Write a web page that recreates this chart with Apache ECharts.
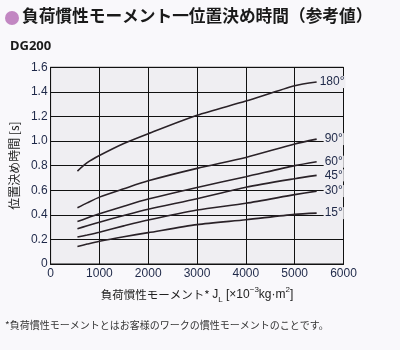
<!DOCTYPE html>
<html><head><meta charset="utf-8">
<script src="https://cdn.jsdelivr.net/npm/echarts@6/dist/echarts.min.js"></script>
<style>html,body{margin:0;padding:0;background:#f9f8fb;}#c{width:400px;height:350px;}</style>
</head><body><div id="c"></div>
<script>
var inertia = [550, 750, 1000, 1500, 2000, 3000, 4000, 5000, 5450];
var t180 = [0.756, 0.824, 0.882, 0.98, 1.06, 1.21, 1.325, 1.45, 1.48];
var t90  = [0.457, 0.497, 0.544, 0.612, 0.677, 0.778, 0.867, 0.976, 1.016];
var t60  = [0.345, 0.374, 0.408, 0.47, 0.528, 0.623, 0.71, 0.80, 0.832];
var t45  = [0.287, 0.311, 0.34, 0.394, 0.445, 0.531, 0.624, 0.694, 0.721];
var t30  = [0.219, 0.236, 0.259, 0.31, 0.358, 0.439, 0.494, 0.564, 0.593];
var t15  = [0.142, 0.162, 0.185, 0.222, 0.255, 0.32, 0.36, 0.404, 0.414];
var seriesNames = ['180°', '90°', '60°', '45°', '30°', '15°'];
var seriesValues = [t180, t90, t60, t45, t30, t15];

var plotBg = '#efeef2';
var numFont = '"Liberation Sans",Arial,sans-serif';
var cjk = '"Noto Sans CJK JP",sans-serif';
var labelColor = '#1e2848';

var chart = echarts.init(document.getElementById('c'), null, {renderer: 'canvas'});
var series = seriesValues.map(function (vals, i) {
  return {
    type: 'line', name: seriesNames[i], smooth: 0.25, symbol: 'none',
    data: inertia.map(function (x, j) { return [x, vals[j]]; }),
    lineStyle: {color: '#2a2228', width: 1.6},
    endLabel: {
      show: true, formatter: '{a}', distance: i === 0 ? 2 : 7,
      color: labelColor, fontFamily: numFont, fontSize: 12,
      backgroundColor: plotBg, padding: [0, 1, 0, 1]
    },
    z: 3
  };
});
chart.setOption({
  backgroundColor: '#f9f8fb',
  animation: false,
  grid: {left: 47.5, right: 56.5, top: 67.3, bottom: 86, show: true,
    backgroundColor: plotBg, borderColor: '#111', borderWidth: 1},
  xAxis: {
    type: 'value', min: 0, max: 6000, interval: 1000,
    axisLine: {show: true, lineStyle: {color: '#111', width: 1}},
    axisTick: {show: false},
    splitLine: {show: true, lineStyle: {color: '#111', width: 1}},
    axisLabel: {color: labelColor, fontFamily: numFont, fontSize: 12, margin: 4,
      formatter: function (v) { return String(v); }},
    name: '{c|負荷慣性モーメント* }{n|J}{s|L}{n| [×10}{sup|−3}{n|kg·m}{sup|2}{n|]}',
    nameLocation: 'middle', nameGap: 22,
    nameTextStyle: {
      color: '#222', fontSize: 12,
      rich: {
        c: {fontFamily: cjk, fontSize: 11.5, color: '#222', lineHeight: 18},
        n: {fontFamily: numFont, fontSize: 12, color: '#222', lineHeight: 18},
        s: {fontFamily: numFont, fontSize: 8, color: '#222', lineHeight: 18, verticalAlign: 'bottom'},
        sup: {fontFamily: numFont, fontSize: 8, color: '#222', lineHeight: 18, verticalAlign: 'top'}
      }
    }
  },
  yAxis: {
    type: 'value', min: 0, max: 1.6, interval: 0.2,
    axisLine: {show: true, lineStyle: {color: '#111', width: 1}},
    axisTick: {show: false},
    splitLine: {show: true, lineStyle: {color: '#111', width: 1}},
    axisLabel: {color: labelColor, fontFamily: numFont, fontSize: 12, margin: 3,
      formatter: function (v) { return v === 0 ? '0' : v.toFixed(1); }},
    name: '位置決め時間 [s]', nameLocation: 'middle', nameGap: 23,
    nameTextStyle: {color: '#222', fontFamily: cjk, fontSize: 12}
  },
  series: series,
  graphic: [
    {type: 'circle', shape: {cx: 12, cy: 18, r: 7}, style: {fill: '#c287c2'}},
    {type: 'text', left: 22, top: 7, style: {text: '負荷慣性モーメント一位置決め時間（参考値）',
      fontFamily: cjk, fontSize: 16.7, fontWeight: 'bold', fill: '#1a1a1a'}},
    {type: 'text', left: 10, top: 40, style: {text: 'DG200',
      fontFamily: '"Noto Sans","DejaVu Sans",sans-serif', fontSize: 13, fontWeight: 'bold', fill: '#1a1a1a'}},
    {type: 'text', left: 5, top: 320, style: {text: '*負荷慣性モーメントとはお客様のワークの慣性モーメントのことです。',
      fontFamily: cjk, fontSize: 10, fill: '#333'}}
  ]
});
</script></body></html>
